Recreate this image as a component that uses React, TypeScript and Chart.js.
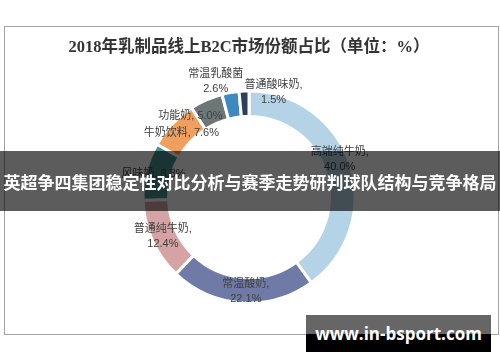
import React, { useEffect, useRef } from "react";
import { Chart, registerables } from "chart.js";

Chart.register(...registerables);

const TITLE = "2018年乳制品线上B2C市场份额占比（单位：%）";
const BANNER = "英超争四集团稳定性对比分析与赛季走势研判球队结构与竞争格局";
const WATERMARK = "www.in-bsport.com";

const categories = ["高端纯牛奶", "常温酸奶", "普通纯牛奶", "风味奶", "牛奶饮料", "功能奶", "常温乳酸菌", "普通酸味奶"];
const shares = [40.0, 22.1, 12.4, 8.8, 7.6, 5.0, 2.6, 1.5];
const sliceColors = ["#b4d3e6", "#6f7ba6", "#d5a3a3", "#4a8f8f", "#f0a05e", "#6e7777", "#3e8abf", "#2f3d5e"];
// label layout: "two" = name, / value ; "one" = name, value ; "twoPlain" = name / value
const labelModes = ["two", "two", "two", "one", "one", "one", "twoPlain", "two"];
const labelOffsets = [[2, -9], [3, 1], [-1, 1], [-5, 0], [0, 0], [-21, 4], [-17, -24], [29, -11]];

const labelPlugin = {
  id: "sliceLabels",
  afterDatasetsDraw(chart: any) {
    const ctx = chart.ctx;
    const meta = chart.getDatasetMeta(0);
    ctx.save();
    ctx.font = "11px 'Liberation Sans', 'Noto Sans CJK SC', sans-serif";
    ctx.fillStyle = "#404040";
    ctx.textAlign = "center";
    ctx.textBaseline = "middle";
    meta.data.forEach((arc: any, i: number) => {
      const p = arc.getProps(["x", "y", "startAngle", "endAngle", "innerRadius", "outerRadius"], true);
      const mid = (p.startAngle + p.endAngle) / 2;
      const r = (p.innerRadius + p.outerRadius) / 2;
      const cx = p.x + Math.cos(mid) * r + labelOffsets[i][0];
      const cy = p.y + Math.sin(mid) * r + labelOffsets[i][1];
      const val = shares[i].toFixed(1) + "%";
      const mode = labelModes[i];
      if (mode === "one") {
        ctx.fillText(categories[i] + ", " + val, cx, cy);
      } else {
        const name = mode === "two" ? categories[i] + "," : categories[i];
        ctx.fillText(name, cx, cy - 7.5);
        ctx.fillText(val, cx, cy + 7.5);
      }
    });
    ctx.restore();
  },
};

function DoughnutChart() {
  const ref = useRef<HTMLCanvasElement>(null);
  useEffect(() => {
    if (!ref.current) return;
    const chart = new Chart(ref.current, {
      type: "doughnut",
      data: {
        labels: categories,
        datasets: [
          {
            data: shares,
            backgroundColor: sliceColors,
            borderColor: "#ffffff",
            borderWidth: 3,
          },
        ],
      },
      options: {
        animation: false,
        responsive: false,
        cutout: "76%",
        layout: { padding: { top: 0, left: 0, right: 2, bottom: 57.5 } },
        plugins: {
          legend: { display: false },
          tooltip: { enabled: false },
          title: {
            display: true,
            text: TITLE,
            color: "#333333",
            font: { size: 16.5, weight: "bold", family: "'Liberation Serif', 'Noto Sans CJK SC', serif", lineHeight: 1.2 },
            padding: { top: 37.7, bottom: 32 },
          },
        },
      },
      plugins: [labelPlugin],
    });
    return () => chart.destroy();
  }, []);
  return <canvas ref={ref} width={500} height={362} style={{ position: "absolute", left: 0, top: 0 }} />;
}

export default function App() {
  return (
    <div style={{ position: "absolute", left: 0, top: 0, width: 500, height: 362, background: "#ffffff", overflow: "hidden" }}>
      <div
        style={{
          position: "absolute",
          left: 4,
          top: 26,
          width: 493,
          height: 307,
          border: "1px solid #a3a3a3",
        }}
      />
      <DoughnutChart />
      <div
        style={{
          position: "absolute",
          left: 0,
          top: 151,
          width: 500,
          height: 60,
          background: "rgba(0,0,0,0.64)",
          color: "#ffffff",
          display: "flex",
          alignItems: "center",
          justifyContent: "center",
          fontFamily: "'Noto Sans CJK SC', sans-serif",
          fontWeight: 700,
          fontSize: 17,
          whiteSpace: "nowrap",
        }}
      >
        {BANNER}
      </div>
      <div
        style={{
          position: "absolute",
          left: 306,
          top: 315,
          width: 185,
          height: 37,
          background: "linear-gradient(#666666 0px, #666666 19px, #000000 19px, #000000 37px)",
          color: "#ffffff",
          display: "flex",
          alignItems: "center",
          justifyContent: "center",
          fontFamily: "'Open Sans', sans-serif",
          fontWeight: 700,
          fontSize: 17,
          whiteSpace: "nowrap",
        }}
      >
        {WATERMARK}
      </div>
    </div>
  );
}
